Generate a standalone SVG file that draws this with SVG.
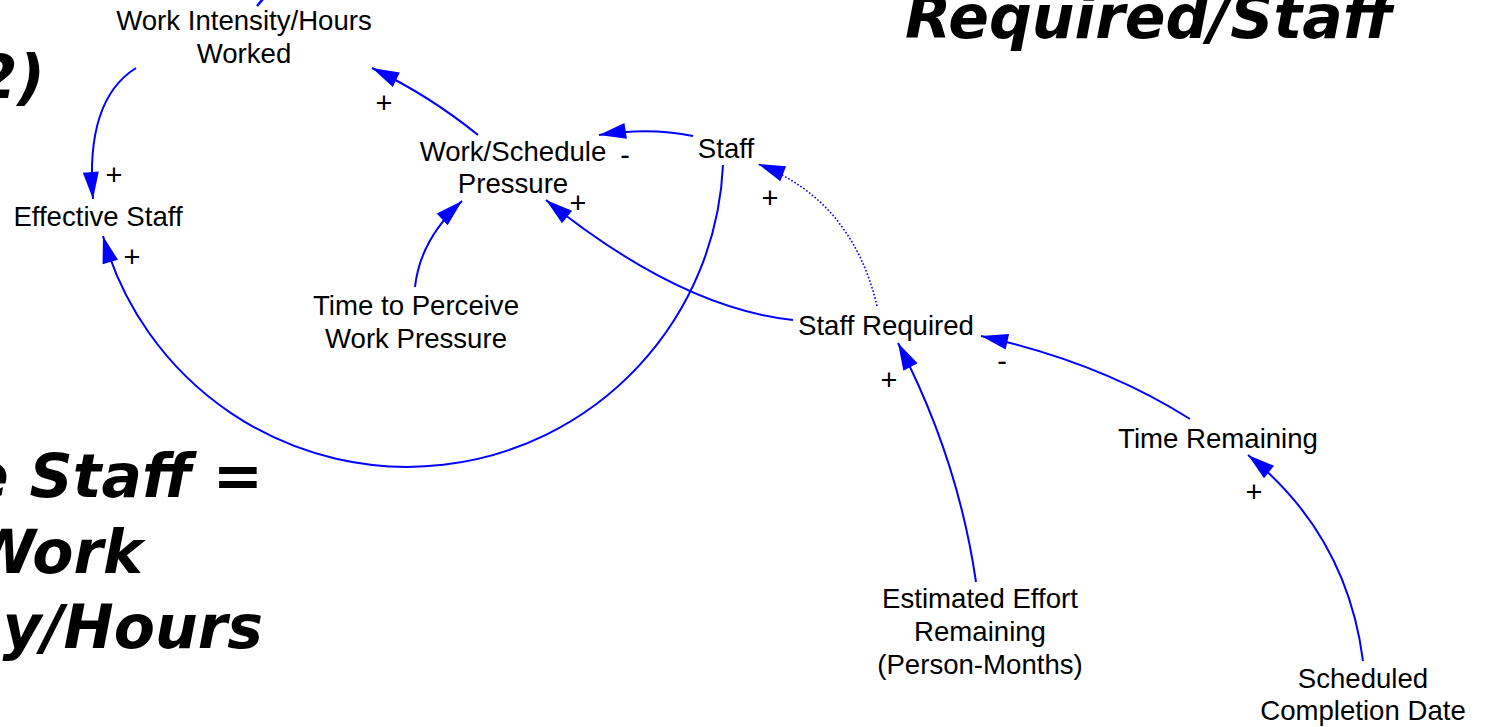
<svg xmlns="http://www.w3.org/2000/svg" width="1487" height="727" viewBox="0 0 1487 727">
<style>
.n{font-family:"Liberation Sans",Arial,sans-serif;font-size:27.6px;fill:#000;text-anchor:middle}
.p{font-family:"Liberation Sans",Arial,sans-serif;font-size:29px;fill:#000;text-anchor:middle}
.b{font-family:"DejaVu Sans",Verdana,sans-serif;font-size:60px;font-weight:bold;font-style:italic;fill:#000}
.c{fill:none;stroke:#0000ff;stroke-width:2;marker-end:url(#ah)}
.d{fill:none;stroke:#0000ff;stroke-width:1.6;stroke-dasharray:1.6 2;marker-end:url(#ah)}
</style>
<defs>
<marker id="ah" markerUnits="userSpaceOnUse" markerWidth="32" markerHeight="20" viewBox="-30 -10 32 20" refX="0" refY="0" orient="auto">
<path d="M0,0 L-27,-8 L-27,8 Z" fill="#0000ff"/>
</marker>
</defs>
<rect width="1487" height="727" fill="#fff"/>
<g id="titles">
<text class="b" x="45" y="98" text-anchor="end">2)</text>
<text class="b" x="905" y="38">Required/Staff</text>
<text class="b" x="263" y="497" text-anchor="end">e Staff =</text>
<text class="b" x="143" y="573" text-anchor="end">Work</text>
<text class="b" x="263" y="648" text-anchor="end">y/Hours</text>
</g>
<g id="connectors">
<path class="c" d="M136,68 Q85,100 93,199"/>
<path class="c" d="M478,135 Q430,96 372,68"/>
<path class="c" d="M693,136 Q650,127 599,135"/>
<path class="c" d="M415,287 Q420,240 462,201"/>
<path class="c" d="M793,320 Q680,308 546,200"/>
<path class="d" d="M877,306 Q852,200 758,164"/>
<path class="c" d="M723,165 A316,316 0 0 1 103,236"/>
<path class="c" d="M1190,419 Q1100,362 981,336"/>
<path class="c" d="M976,582 Q958,458 898,343"/>
<path class="c" d="M1363,661 Q1347,535 1248,455"/>
<path d="M257,6 L263,-1" stroke="#0000ff" stroke-width="2.5" fill="none"/>
</g>
<g id="polarities">
<text class="p" x="114" y="185">+</text>
<text class="p" x="132" y="267">+</text>
<text class="p" x="384" y="113">+</text>
<text class="p" x="578" y="213">+</text>
<text class="p" x="625" y="165">-</text>
<text class="p" x="770" y="208">+</text>
<text class="p" x="889" y="390">+</text>
<text class="p" x="1002" y="371">-</text>
<text class="p" x="1254" y="502">+</text>
</g>
<g id="n-work-intensity"><text class="n" x="244" y="30">Work Intensity/Hours</text><text class="n" x="244" y="63">Worked</text></g>
<g id="n-pressure"><text class="n" x="513" y="161">Work/Schedule</text><text class="n" x="513" y="193">Pressure</text></g>
<g id="n-staff"><text class="n" x="726" y="158">Staff</text></g>
<g id="n-effective-staff"><text class="n" x="98" y="226">Effective Staff</text></g>
<g id="n-time-perceive"><text class="n" x="416" y="315">Time to Perceive</text><text class="n" x="416" y="348">Work Pressure</text></g>
<g id="n-staff-required"><text class="n" x="886" y="335">Staff Required</text></g>
<g id="n-time-remaining"><text class="n" x="1218" y="448">Time Remaining</text></g>
<g id="n-effort"><text class="n" x="980" y="608">Estimated Effort</text><text class="n" x="980" y="641">Remaining</text><text class="n" x="980" y="674">(Person-Months)</text></g>
<g id="n-scheduled"><text class="n" x="1363" y="688">Scheduled</text><text class="n" x="1363" y="720">Completion Date</text></g>
</svg>
